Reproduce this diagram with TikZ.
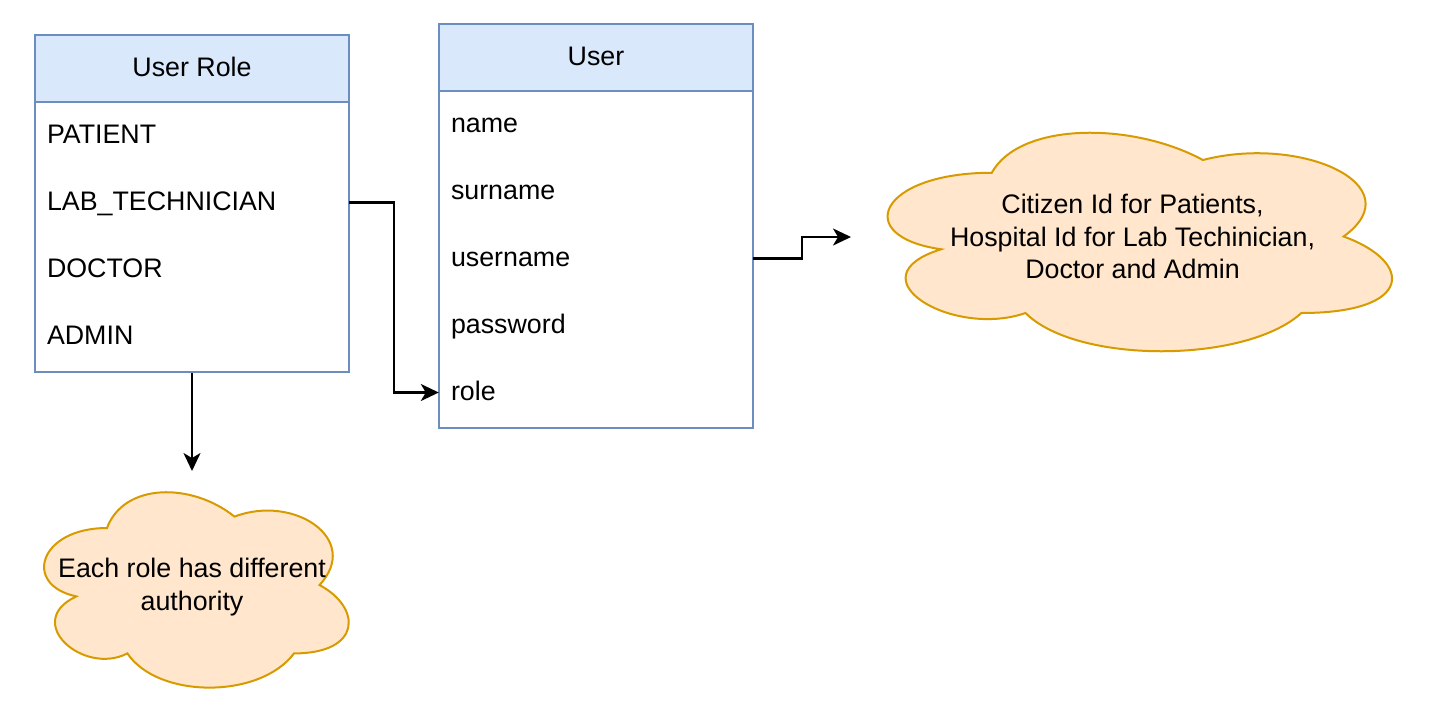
\documentclass[tikz,border=0pt]{standalone}
\usepackage{fontspec}
\setmainfont{Liberation Sans}
\usetikzlibrary{arrows.meta}
\definecolor{hdrfill}{HTML}{DAE8FC}
\definecolor{hdrdraw}{HTML}{6C8EBF}
\definecolor{cloudfill}{HTML}{FFE6CC}
\definecolor{clouddraw}{HTML}{D79B00}
\newcommand\dcloudpath{%
  (0.25,0.25) .. controls (0.05,0.25) and (0,0.5) .. (0.16,0.55)
  .. controls (0,0.66) and (0.18,0.9) .. (0.31,0.8)
  .. controls (0.4,1) and (0.7,1) .. (0.8,0.8)
  .. controls (1,0.8) and (1,0.6) .. (0.875,0.5)
  .. controls (1,0.3) and (0.8,0.1) .. (0.625,0.2)
  .. controls (0.5,0.05) and (0.3,0.05) .. (0.25,0.25) -- cycle}
\begin{document}
\begin{tikzpicture}[x=1pt,y=-1pt,
  every node/.style={font=\fontsize{26.8}{32.5}\selectfont},
  hdr/.style={draw=hdrdraw,fill=hdrfill,line width=2pt,minimum width=314pt,minimum height=67pt,inner sep=0pt},
  hdrtxt/.style={inner sep=0pt,text height=0.72em,text depth=0pt,yshift=-4pt},
  tbody/.style={draw=hdrdraw,fill=white,line width=2pt,minimum width=314pt,inner sep=0pt},
  rowtxt/.style={minimum width=314pt,minimum height=67pt,text width=290pt,inner xsep=12pt,inner ysep=0pt,align=left,text height=0.72em,text depth=0pt},
  rowlbl/.style={yshift=-4.5pt},
  cloudshape/.style={draw=clouddraw,fill=cloudfill,line width=2pt},
  cloudtxt/.style={align=center,inner sep=0pt},
  arr/.style={draw=black,line width=2.2pt,-{Stealth[length=18pt,width=17pt,inset=5pt]}}]
\useasboundingbox (0,0) rectangle (1437,721);
% User Role table
\node[tbody,minimum height=270pt] (urb) at (192,237) {};
\node[hdr] (urh) at (192,68.5) {};
\node[hdrtxt] (urht) at (urh.center) {User Role};
\node[rowtxt] (patient) at (192,135.5) {};
\node[rowtxt] (labt) at (192,202.5) {};
\node[rowtxt] (doctor) at (192,269.5) {};
\node[rowtxt] (admin) at (192,336.5) {};
\node[rowtxt,rowlbl] at (patient.center) {PATIENT};
\node[rowtxt,rowlbl] at (labt.center) {LAB\_TECHNICIAN};
\node[rowtxt,rowlbl] at (doctor.center) {DOCTOR};
\node[rowtxt,rowlbl] at (admin.center) {ADMIN};
% User table
\node[tbody,minimum height=337pt] (ub) at (596,259.5) {};
\node[hdr] (uh) at (596,57.5) {};
\node[hdrtxt] (uht) at (uh.center) {User};
\node[rowtxt] (name) at (596,124.5) {};
\node[rowtxt] (surname) at (596,191.5) {};
\node[rowtxt] (uname) at (596,258.5) {};
\node[rowtxt] (password) at (596,325.5) {};
\node[rowtxt] (role) at (596,392.5) {};
\node[rowtxt,rowlbl] at (name.center) {name};
\node[rowtxt,rowlbl] at (surname.center) {surname};
\node[rowtxt,rowlbl] at (uname.center) {username};
\node[rowtxt,rowlbl] at (password.center) {password};
\node[rowtxt,rowlbl] at (role.center) {role};
% right cloud
\begin{scope}[shift={(851,109)},x=563pt,y=-255pt]
  \path[cloudshape] \dcloudpath;
\end{scope}
\coordinate (c1w) at (851,237);
\node[cloudtxt] (c1) at (1132.5,236.5) {Citizen Id for Patients,\\Hospital Id for Lab Techinician,\\Doctor and Admin};
% left cloud
\begin{scope}[shift={(22,471)},x=340pt,y=-228pt]
  \path[cloudshape] \dcloudpath;
\end{scope}
\coordinate (c2n) at (192,471);
\node[cloudtxt] (c2) at (192,587) {Each role has different\\authority};
% connectors
\draw[arr] (labt.east) -- ++(45,0) |- (role.west);
\draw[arr] (uname.east) -- ++(49,0) |- (c1w);
\draw[arr] (urb.south) -- (c2n);
\end{tikzpicture}
\end{document}
